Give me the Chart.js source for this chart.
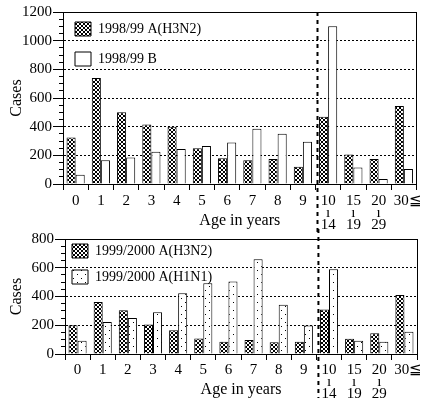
<!DOCTYPE html>
<html>
<head>
<meta charset="utf-8">
<script src="https://cdn.jsdelivr.net/npm/chart.js@4/dist/chart.umd.min.js"></script>
<style>
  body { margin: 0; background: #fff; }
  #wrap { position: relative; width: 427px; height: 398px; }
  #topChart { position: absolute; left: 0; top: 0; }
  #bottomChart { position: absolute; left: 0; top: 229px; }
</style>
</head>
<body>
<div id="wrap">
  <canvas id="topChart" width="427" height="232"></canvas>
  <canvas id="bottomChart" width="427" height="169"></canvas>
</div>
<script>
// age groups (x axis)
const ageLabels = ['0', '1', '2', '3', '4', '5', '6', '7', '8', '9',
    ['10', 'ı', '14'], ['15', 'ı', '19'], ['20', 'ı', '29'], '\u200230≦'];

// 1998/99 season
const cases9899H3N2 = [325, 740, 500, 415, 400, 250, 180, 165, 175, 120, 470, 205, 175, 545];
const cases9899B = [65, 165, 185, 225, 245, 265, 290, 385, 350, 295, 1100, 115, 35, 105];

// 1999/2000 season
const cases9900H3N2 = [200, 362, 305, 205, 165, 108, 85, 97, 81, 85, 309, 106, 145, 410];
const cases9900H1N1 = [92, 222, 250, 290, 422, 492, 505, 660, 343, 198, 590, 92, 85, 154];

Chart.defaults.font.family = '"Liberation Serif", "Times New Roman", serif';
Chart.defaults.color = '#000';

// fill patterns like the printed hatching
function makePattern(size, dots) {
    const c = document.createElement('canvas');
    c.width = c.height = size;
    const g = c.getContext('2d');
    g.fillStyle = '#fff';
    g.fillRect(0, 0, size, size);
    g.fillStyle = '#000';
    dots.forEach(d => g.fillRect(d[0], d[1], 1, 1));
    return g.createPattern(c, 'repeat');
}
const crossHatch = makePattern(4, [[0,0],[3,0],[1,1],[2,1],[1,2],[2,2],[0,3],[3,3]]);
const dotted = makePattern(8, [[1,1],[5,5]]);

// dashed separator between age 9 and 10-14
const dividerLine = {
    id: 'divider',
    afterDraw(chart, args, opts) {
        const x = chart.scales.x;
        const px = (x.getPixelForValue(9) + x.getPixelForValue(10)) / 2 + opts.shift;
        const ctx = chart.ctx;
        ctx.save();
        ctx.strokeStyle = '#000';
        ctx.lineWidth = 2;
        ctx.setLineDash([4, 4]);
        ctx.beginPath();
        ctx.moveTo(px, opts.fromArea ? chart.chartArea.top : 0);
        ctx.lineTo(px, chart.height);
        ctx.stroke();
        ctx.restore();
    }
};

// nudge the in-plot legend a little
const legendNudge = {
    id: 'legendNudge',
    afterLayout(chart, args, opts) {
        if (chart.legend) {
            chart.legend.left += opts.dx;
            chart.legend.top += opts.dy;
        }
    }
};

function makeOptions(cfg) {
    return {
        responsive: false,
        animation: false,
        layout: { padding: { top: cfg.padTop, right: 10, left: 0, bottom: 0 } },
        plugins: {
            tooltip: { enabled: false },
            legend: {
                position: 'chartArea',
                align: 'start',
                labels: {
                    boxWidth: 16,
                    boxHeight: 14,
                    padding: cfg.legendPad,
                    color: '#000',
                    font: { size: 14 }
                }
            },
            legendNudge: { dx: cfg.legendDx, dy: cfg.legendDy },
            divider: { shift: 2, fromArea: cfg.dividerFromArea }
        },
        scales: {
            x: {
                type: 'category',
                offset: true,
                grid: { offset: true, drawOnChartArea: false, tickLength: 6, color: '#000', tickColor: '#000' },
                border: { color: '#000', width: 1 },
                ticks: { autoSkip: false, maxRotation: 0, padding: cfg.xTickPad, color: '#000',
                    font: { size: 15, lineHeight: 0.8 } },
                title: { display: true, text: 'Age in years', color: '#000',
                    font: { size: 16, lineHeight: 1 }, padding: { top: 0, bottom: cfg.xTitlePad } },
                afterFit: s => { s.height = cfg.xHeight; }
            },
            xTop: {
                type: 'category',
                position: 'top',
                offset: true,
                grid: { display: false },
                ticks: { display: false },
                border: { color: '#000' },
                afterFit: s => { s.height = 0; }
            },
            y: {
                min: 0,
                max: cfg.yMax,
                weight: 1,
                ticks: { stepSize: 200, padding: 1, color: '#000', font: { size: 15 },
                    callback: v => String(v) },
                grid: { color: '#000', tickLength: 10, tickColor: '#000', tickBorderDash: [1, 0] },
                border: { color: '#000', dash: [2, 2] },
                title: { display: true, text: 'Cases', color: '#000',
                    font: { size: 16, lineHeight: 1 }, padding: { top: 9, bottom: 0 } },
                afterFit: s => { s.width = cfg.yWidth; }
            },
            yMinor: {
                position: 'left',
                min: 0,
                max: cfg.yMax,
                weight: 0,
                ticks: { display: false, stepSize: 50 },
                grid: { drawOnChartArea: false, tickLength: 4, tickColor: '#000' },
                border: { display: false },
                afterFit: s => { s.width = 0; }
            },
            yRight: {
                position: 'right',
                min: 0,
                max: cfg.yMax,
                grid: { display: false },
                ticks: { display: false },
                border: { color: '#000' },
                afterFit: s => { s.width = 0; }
            }
        }
    };
}

function barSet(label, data, fill) {
    return {
        label: label,
        data: data,
        backgroundColor: fill,
        borderColor: '#000',
        borderWidth: 1,
        categoryPercentage: 0.72,
        barPercentage: 1.0
    };
}

// *****1998/99 chart***** //
new Chart(document.getElementById('topChart'), {
    type: 'bar',
    data: {
        labels: ageLabels,
        datasets: [
            barSet('1998/99 A(H3N2)', cases9899H3N2, crossHatch),
            barSet('1998/99 B', cases9899B, '#fff')
        ]
    },
    options: makeOptions({
        yMax: 1200, yWidth: 63, padTop: 12, xHeight: 48, xTickPad: 5, xTitlePad: 3,
        legendPad: 16, legendDx: -4, legendDy: 6, dividerFromArea: true
    }),
    plugins: [dividerLine, legendNudge]
});

// *****1999/2000 chart***** //
new Chart(document.getElementById('bottomChart'), {
    type: 'bar',
    data: {
        labels: ageLabels,
        datasets: [
            barSet('1999/2000 A(H3N2)', cases9900H3N2, crossHatch),
            barSet('1999/2000 A(H1N1)', cases9900H1N1, dotted)
        ]
    },
    options: makeOptions({
        yMax: 800, yWidth: 65, padTop: 0, xHeight: 44, xTickPad: 4, xTitlePad: 0,
        legendPad: 12, legendDx: -5, legendDy: 3, dividerFromArea: false
    }),
    plugins: [dividerLine, legendNudge]
});
</script>
</body>
</html>
